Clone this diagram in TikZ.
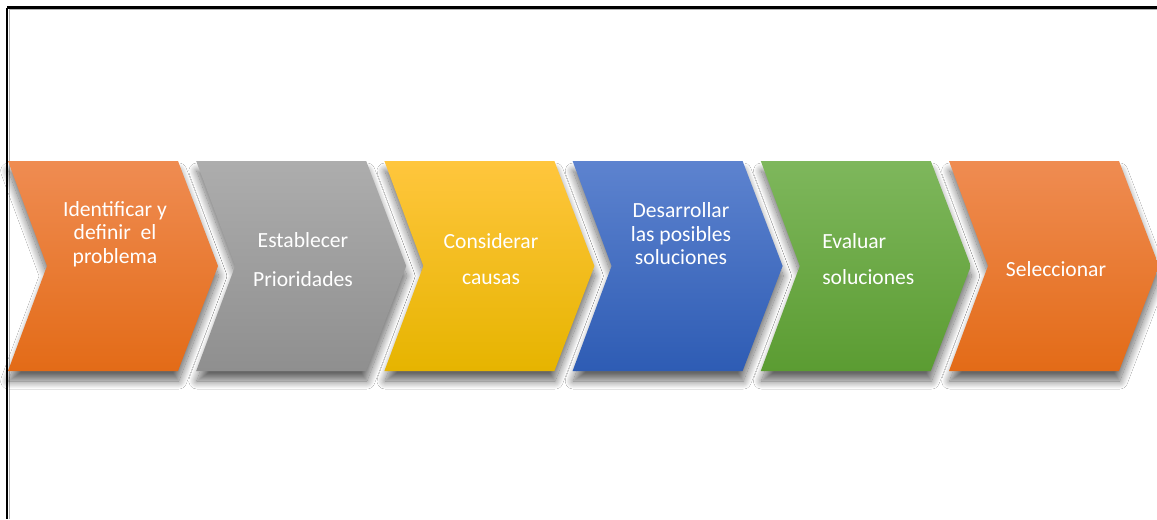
\documentclass[tikz,border=0pt]{standalone}
\usepackage{fontspec}
\setmainfont{Carlito}
\usetikzlibrary{shadows.blur}

\definecolor{orTop}{HTML}{EF8C52}
\definecolor{orMid}{HTML}{F47B2B}
\definecolor{orBot}{HTML}{E36B17}
\definecolor{grTop}{HTML}{ADADAD}
\definecolor{grMid}{HTML}{A0A0A0}
\definecolor{grBot}{HTML}{8F8F8F}
\definecolor{ylTop}{HTML}{FFC63D}
\definecolor{ylMid}{HTML}{FFC000}
\definecolor{ylBot}{HTML}{E6B400}
\definecolor{blTop}{HTML}{5D83CF}
\definecolor{blMid}{HTML}{4470C4}
\definecolor{blBot}{HTML}{2E5CB4}
\definecolor{gnTop}{HTML}{7EB75C}
\definecolor{gnMid}{HTML}{6CAB43}
\definecolor{gnBot}{HTML}{5B9C32}

\tikzset{
  chev/.style={blur shadow={shadow xshift=0.5pt, shadow yshift=-7.5pt,
      shadow blur radius=6pt, shadow blur steps=24, shadow opacity=60,
      shadow blur extra rounding=0pt}},
  label/.style={text=white, font=\fontsize{16.2}{17.6}\selectfont,
      align=center, inner sep=0pt},
  frameline/.style={line width=1.6pt, black},
}

% one chevron: left edge at #1, shading colours #2
\newcommand{\chevronat}[2]{%
  \path[chev, top color=#2Top, middle color=#2Mid, bottom color=#2Bot]
    (#1,161) -- ++(170,0) -- ++(40,105) -- ++(-40,105) -- ++(-170,0)
    -- ++(39,-105) -- cycle;}

\begin{document}
\begin{tikzpicture}[x=0.75pt,y=-0.75pt]
  \useasboundingbox (0,0) rectangle (1157,519);
  \fill[white] (0,0) rectangle (1157,519);

  % outer frame (top and left edges)
  \draw[gray!60, line width=0.75pt] (9,9.5) -- (1157,9.5);
  \draw[gray!60, line width=0.75pt] (9.2,9.5) -- (9.2,519);
  \draw[frameline] (7,7.5) -- (1157,7.5);
  \draw[frameline] (7,7.5) -- (7,519);

  % process chevrons
  \chevronat{8}{or}
  \chevronat{196.2}{gr}
  \chevronat{384.4}{yl}
  \chevronat{572.6}{bl}
  \chevronat{760.8}{gn}
  \chevronat{949}{or}

  % step labels
  \node[label] (s1) at (115,234) {Identificar y\\definir\ \ el\\problema};
  \node[label] (s2) at (303,260) {Establecer\\[11.6pt]Prioridades};
  \node[label] (s3) at (491,259) {Considerar\\[10pt]causas};
  \node[label] (s4) at (681,234) {Desarrollar\\las posibles\\soluciones};
  \node[label, align=left, anchor=west] (s5) at (822,259) {Evaluar\\[10pt]soluciones};
  \node[label] (s6) at (1056,269) {Seleccionar};
\end{tikzpicture}
\end{document}
